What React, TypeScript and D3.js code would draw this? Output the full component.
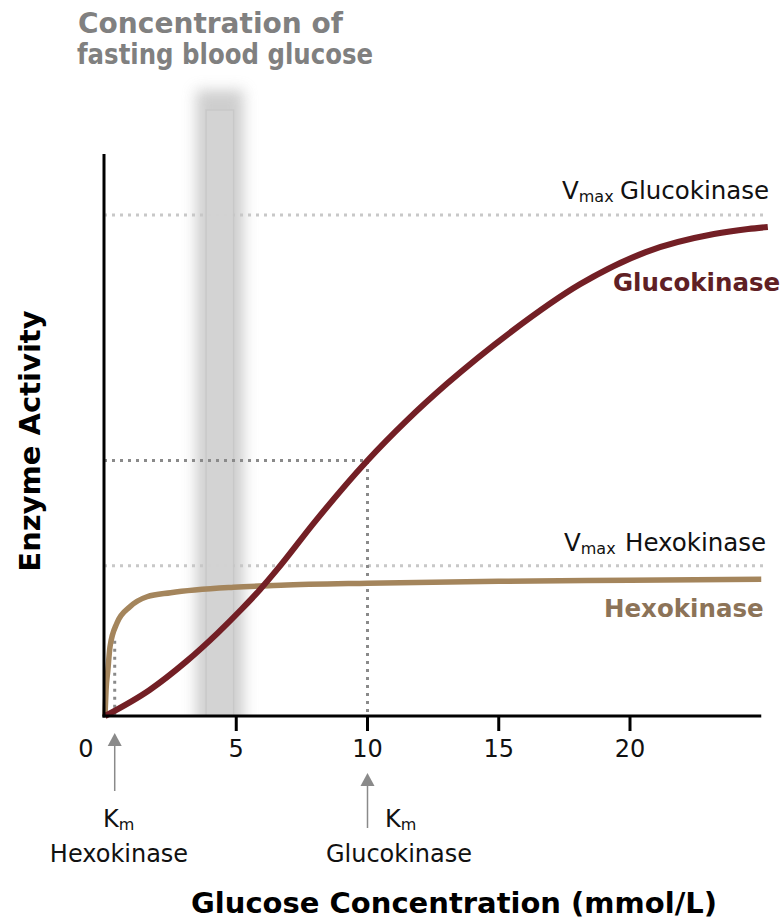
import React from "react";
import * as d3 from "d3";

// ---- data ----
const glucoS = [0, 1.7, 3.1, 4.3, 5.2, 5.9, 6.6, 8, 10, 11.5, 13, 15.5, 18.1, 20.6, 23.2, 24.5, 25.25];
const glucoV = [0, 5.2, 10.9, 16.6, 21.3, 25.2, 29.5, 38.8, 51.0, 59.0, 66.2, 76.8, 86.2, 92.6, 96.2, 97.2, 97.6];
const hexoS = [0, 0.04, 0.11, 0.19, 0.46, 0.95, 1.6, 2.5, 4.9, 6.7, 10, 15, 20, 25];
const hexoV = [0, 5.2, 9.2, 13.8, 18.6, 21.8, 23.8, 24.6, 25.7, 26.1, 26.5, 26.9, 27.1, 27.3];
const xTicks = [5, 10, 15, 20];
const vmaxGluco = 100;
const vmaxHexo = 30;
const kmGluco = 10;
const kmGlucoLevel = 51;
const kmHexo = 0.37;
const kmHexoLevel = 15;
const fastingBand = [3.85, 4.9];
const titleLines = ["Concentration of", "fasting blood glucose"];

const W = 784;
const H = 923;
const FONT = "'DejaVu Sans', Verdana, sans-serif";

export default function App() {
  const x = d3.scaleLinear().domain([0, 25]).range([105, 761.25]);
  const y = d3.scaleLinear().domain([0, 100]).range([716, 215]);
  const line = d3
    .line<[number, number]>()
    .x((d) => x(d[0]))
    .y((d) => y(d[1]))
    .curve(d3.curveMonotoneX);
  const glucoPath = line(glucoS.map((s, i) => [s, glucoV[i]]) as [number, number][]) || "";
  const hexoPath = line(hexoS.map((s, i) => [s, hexoV[i]]) as [number, number][]) || "";

  const xAxisEnd = x(25);
  const lineEnd = x(25.25);
  const bx0 = x(fastingBand[0]);
  const bx1 = x(fastingBand[1]);
  const y0 = y(0);

  return (
    <svg
      width={W}
      height={H}
      viewBox={`0 0 ${W} ${H}`}
      style={{ position: "absolute", left: 0, top: 0, background: "#fff" }}
      fontFamily={FONT}
    >
      <defs>
        <filter id="blur" x="-100%" y="-20%" width="300%" height="140%">
          <feGaussianBlur stdDeviation="7" />
        </filter>
        <clipPath id="plotclip">
          <rect x={0} y={0} width={W} height={y0} />
        </clipPath>
      </defs>

      {/* title */}
      <g fill="#808080" fontWeight="bold" fontSize={28}>
        <text x={78} y={33} textLength={265} lengthAdjust="spacingAndGlyphs">
          {titleLines[0]}
        </text>
        <text x={77} y={64} textLength={296} lengthAdjust="spacingAndGlyphs">
          {titleLines[1]}
        </text>
      </g>

      {/* Vmax reference lines */}
      <line x1={104} x2={lineEnd} y1={y(vmaxGluco)} y2={y(vmaxGluco)} stroke="#c8c8c8" strokeWidth={3} strokeDasharray="3 5" />
      <line x1={104} x2={lineEnd} y1={y(vmaxHexo)} y2={y(vmaxHexo)} stroke="#c8c8c8" strokeWidth={3} strokeDasharray="3 5" />

      {/* fasting glucose band */}
      <g clipPath="url(#plotclip)">
        <rect x={bx0 - 10} y={90} width={bx1 - bx0 + 20} height={y0 - 90 + 20} fill="#c6c6c6" filter="url(#blur)" opacity={0.85} />
        <rect x={bx0} y={110} width={bx1 - bx0} height={y0 - 110} fill="#d4d4d4" stroke="#c8c8c8" strokeWidth={1.5} opacity={0.9} />
      </g>

      {/* Km dotted guides */}
      <polyline
        points={`104,${y(kmGlucoLevel)} ${x(kmGluco)},${y(kmGlucoLevel)} ${x(kmGluco)},${y0}`}
        fill="none"
        stroke="#8a8a8a"
        strokeWidth={3}
        strokeDasharray="3 5"
      />
      <line x1={x(kmHexo)} x2={x(kmHexo)} y1={y(kmHexoLevel)} y2={y0} stroke="#8a8a8a" strokeWidth={3} strokeDasharray="3 5" />

      {/* curves */}
      <path d={hexoPath} fill="none" stroke="#a4855c" strokeWidth={5.5} />
      <path d={glucoPath} fill="none" stroke="#731f25" strokeWidth={6} />

      {/* axes */}
      <line x1={104} x2={104} y1={154} y2={y0 + 1.5} stroke="#000" strokeWidth={3} />
      <line x1={102.5} x2={xAxisEnd} y1={y0} y2={y0} stroke="#000" strokeWidth={3} />
      {xTicks.map((t) => (
        <g key={t}>
          <line x1={x(t)} x2={x(t)} y1={y0} y2={731} stroke="#000" strokeWidth={3} />
          <text x={x(t)} y={757} textAnchor="middle" fontSize={24} fill="#111">
            {t}
          </text>
        </g>
      ))}
      <text x={86} y={757} textAnchor="middle" fontSize={24} fill="#111">
        0
      </text>

      {/* Km arrows */}
      {[
        { s: kmHexo, top: 733, bottom: 791 },
        { s: kmGluco, top: 773, bottom: 828 },
      ].map((a, i) => (
        <g key={i} fill="#8a8a8a" stroke="#8a8a8a">
          <line x1={x(a.s)} x2={x(a.s)} y1={a.top + 10} y2={a.bottom} strokeWidth={1.5} />
          <path d={`M${x(a.s)},${a.top} L${x(a.s) + 7},${a.top + 13} L${x(a.s) - 7},${a.top + 13} Z`} stroke="none" />
        </g>
      ))}

      {/* Km labels */}
      <g fill="#111" fontSize={24}>
        <text x={103} y={827}>
          K<tspan fontSize={16} dy={3}>m</tspan>
        </text>
        <text x={119} y={862} textAnchor="middle">Hexokinase</text>
        <text x={385} y={827}>
          K<tspan fontSize={16} dy={3}>m</tspan>
        </text>
        <text x={399} y={862} textAnchor="middle">Glucokinase</text>
      </g>

      {/* Vmax labels */}
      <g fill="#111" fontSize={24.5}>
        <text x={562} y={199}>
          V<tspan fontSize={16} dy={3}>max</tspan>
          <tspan x={620} dy={-3}>Glucokinase</tspan>
        </text>
        <text x={564} y={551}>
          V<tspan fontSize={16} dy={3}>max</tspan>
          <tspan x={625} dy={-3}>Hexokinase</tspan>
        </text>
      </g>

      {/* series labels */}
      <text x={613} y={291} fontSize={24.5} fontWeight="bold" fill="#5f2024">
        Glucokinase
      </text>
      <text x={604} y={617} fontSize={24.5} fontWeight="bold" fill="#8c7358">
        Hexokinase
      </text>

      {/* axis titles */}
      <text x={454} y={913} textAnchor="middle" fontSize={29} fontWeight="bold" fill="#000">
        Glucose Concentration (mmol/L)
      </text>
      <text
        transform="rotate(-90)"
        x={-441}
        y={40}
        textAnchor="middle"
        fontSize={29}
        fontWeight="bold"
        fill="#000"
      >
        Enzyme Activity
      </text>
    </svg>
  );
}
